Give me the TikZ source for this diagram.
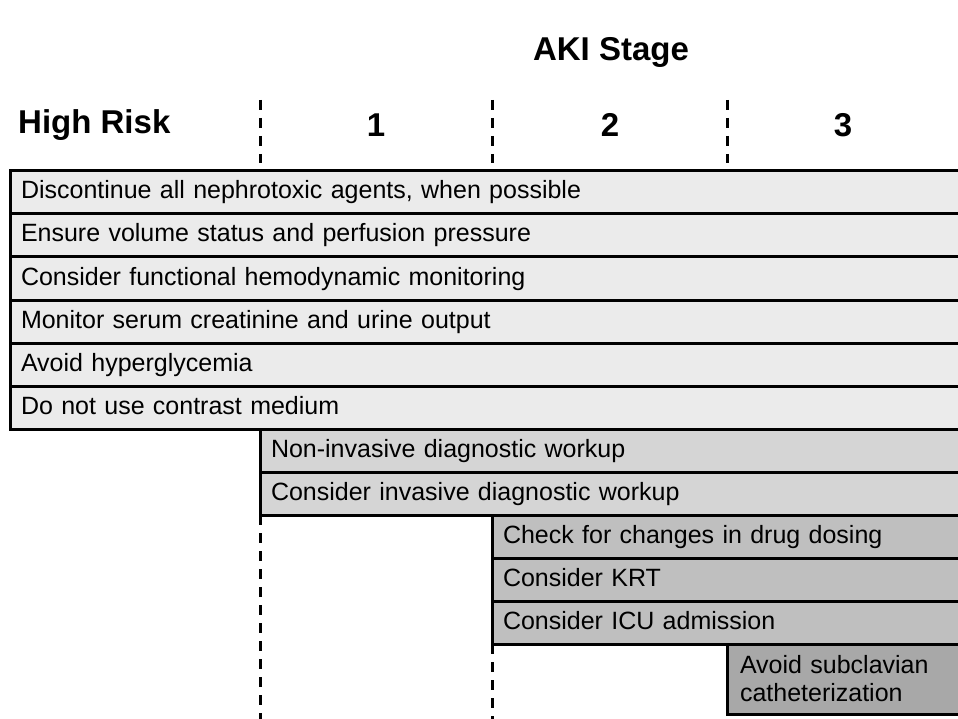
\documentclass[tikz,border=0pt]{standalone}
\usepackage{fontspec}
\setmainfont{Liberation Sans}
\usetikzlibrary{positioning}
\definecolor{stageone}{HTML}{EBEBEB}
\definecolor{stagetwo}{HTML}{D5D5D5}
\definecolor{stagethree}{HTML}{BFBFBF}
\definecolor{stagefour}{HTML}{A8A8A8}
\tikzset{
    actionbox/.style={draw=black, line width=3pt, anchor=north west,
        inner xsep=11pt, inner ysep=0pt, outer sep=0pt, align=left,
        font=\fontsize{25}{28}\selectfont},
    actionrow/.style={actionbox, minimum height=43pt,
        text height=18pt, text depth=5pt},
    headtext/.style={font=\bfseries\fontsize{33}{38}\selectfont, inner sep=0pt},
    stageline/.style={black, line width=3pt, dash pattern=on 10pt off 8pt}
}
\begin{document}
\begin{tikzpicture}[x=1pt, y=-1pt]
    \useasboundingbox (0,0) rectangle (958,719);
    \def\rowh{43}

    % headings
    \node[headtext] (title) at (611,52) {AKI Stage};
    \node[headtext, anchor=west] (highrisk) at (18,125) {High Risk};
    \node[headtext] (stage1) at (376,125) {1};
    \node[headtext] (stage2) at (610,125) {2};
    \node[headtext] (stage3) at (843,125) {3};

    % stage borders
    \foreach \x in {260,492,727}
    {
        \draw[stageline] (\x,100) -- (\x,163);
    }
    \draw[stageline] (260,515) -- (260,725);
    \draw[stageline] (492,644) -- (492,725);

    % high risk actions
    \foreach \i/\txt in {
        1/{Discontinue all nephrotoxic agents, when possible},
        2/{Ensure volume status and perfusion pressure},
        3/{Consider functional hemodynamic monitoring},
        4/{Monitor serum creatinine and urine output},
        5/{Avoid hyperglycemia},
        6/{Do not use contrast medium}}
    {
        \node[actionrow, fill=stageone, text width=928pt] (risk\i)
            at (10,{171+\rowh*(\i-1)}) {\txt};
    }

    % stage 1 actions
    \foreach \i/\txt in {
        1/{Non-invasive diagnostic workup},
        2/{Consider invasive diagnostic workup}}
    {
        \node[actionrow, fill=stagetwo, text width=688pt] (one\i)
            at (260,{429+\rowh*(\i-1)}) {\txt};
    }

    % stage 2 actions
    \foreach \i/\txt in {
        1/{Check for changes in drug dosing},
        2/{Consider KRT},
        3/{Consider ICU admission}}
    {
        \node[actionrow, fill=stagethree, text width=456pt] (two\i)
            at (492,{515+\rowh*(\i-1)}) {\txt};
    }

    % stage 3 actions
    \node[actionbox, fill=stagefour, text width=217pt, minimum height=70pt,
        inner xsep=13pt] (three1) at (727,644)
        {Avoid subclavian\\catheterization};
\end{tikzpicture}
\end{document}
